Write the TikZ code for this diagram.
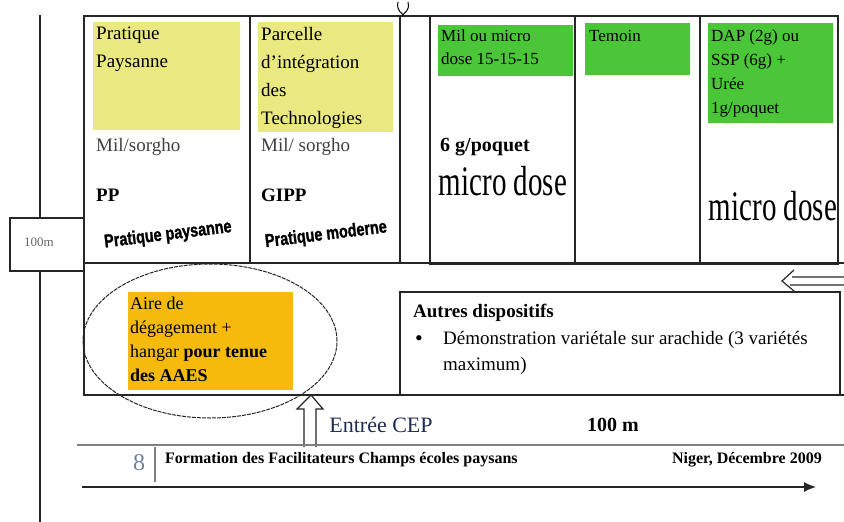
\documentclass[tikz,border=0pt]{standalone}
\usepackage{fontspec}
\setmainfont{Liberation Serif}
\newfontfamily\artfont[BoldFeatures={FakeBold=1.5}]{Liberation Sans}
\usetikzlibrary{arrows.meta}

\definecolor{paleyellow}{RGB}{234,232,128}
\definecolor{fieldgreen}{RGB}{74,198,56}
\definecolor{hangarorange}{RGB}{246,186,12}
\definecolor{cepnavy}{RGB}{30,45,80}
\definecolor{pagegrey}{RGB}{128,128,128}
\definecolor{pageblue}{RGB}{110,130,160}

\begin{document}
\begin{tikzpicture}[x=1pt,y=-1pt,
		plot/.style={draw=black!85,line width=1.2pt},
		txt/.style={anchor=north west,inner sep=0pt,align=left,font=\fontsize{19}{28}\selectfont},
		small/.style={txt,font=\fontsize{17}{23}\selectfont},
		art/.style={inner sep=0pt,font=\artfont\bfseries\fontsize{16}{16}\selectfont,rotate=7},
		dose/.style={inner sep=0pt,font=\fontsize{29}{29}\selectfont}]
		\useasboundingbox (0,0) rectangle (844,522);
		\fill [paleyellow] (93,22) rectangle (240,130)
			  (258,22) rectangle (393,132);
		\fill [fieldgreen] (438,25) rectangle (573,76)
			  (585,23) rectangle (690,75)
			  (708,23) rectangle (833,123);
		\fill [hangarorange] (128,292) rectangle (293,390);
		\draw [plot] (84,16) rectangle (400,263)
			  (250,16) -- (250,263)
			  (400,16) -- (430,16)
			  (430,16) rectangle (838,264)
			  (575,16) -- (575,264)
			  (700,16) -- (700,264);
		\draw [plot] (84,263) -- (84,395) -- (844,395)
			  (400,263) -- (844,263)
			  (400,292) rectangle (840,395);
		\draw [plot] (10,218) rectangle (84,271)
			  (40,15) -- (40,218)
			  (40,271) -- (40,522);
		\draw [line width=1pt] (398,2) .. controls (396,12) and (403,13) .. (403,15) .. controls (404,12) and (410,12) .. (408,2);
		\draw [plot] (844,277) -- (792,277)
			  (844,285) -- (790,285)
			  (794,270) -- (782,281) -- (794,291);
		\draw [black!85,line width=1pt,dash pattern=on 4pt off 1pt] (210,341) ellipse [x radius=127pt,y radius=77pt];
		\draw [plot,fill=white] (304,447) -- (304,409) -- (297,409) -- (311,395) -- (323,409) -- (316,409) -- (316,447);
		\draw [pagegrey,line width=2.5pt] (77,445) -- (844,445);
		\draw [pagegrey,line width=2pt] (155,447) -- (155,482);
		\coordinate (scale west) at (82,487);
		\coordinate (scale east) at (816,487);
		\draw [black!85,line width=1.2pt,-{Latex[length=12pt,width=10pt]}] (scale west) -- (scale east);

		\node [txt] (pp head) at (96,27) {Pratique\\Paysanne};
		\node [txt] (gipp head) at (261,27) {Parcelle\\d'intégration\\des\\Technologies};
		\node [txt,text=black!75] (pp crop) at (96,138) {Mil/sorgho};
		\node [txt,text=black!75] (gipp crop) at (261,138) {Mil/ sorgho};
		\node [txt,font=\bfseries\fontsize{19}{28}\selectfont] (pp) at (96,189) {PP};
		\node [txt,font=\bfseries\fontsize{19}{28}\selectfont] (gipp) at (261,189) {GIPP};
		\node [art] (pp art) at (168,235) {\scalebox{0.9}[1.15]{Pratique paysanne}};
		\node [art] (gipp art) at (326,235) {\scalebox{0.9}[1.15]{Pratique moderne}};

		\node [small] (md head) at (441,30) {Mil ou micro\\dose 15-15-15};
		\node [small] (tem head) at (589,30) {Temoin};
		\node [small,font=\fontsize{17}{24}\selectfont] (dap head) at (711,30) {DAP (2g) ou\\SSP (6g) +\\Urée\\1g/poquet};
		\node [txt,font=\bfseries\fontsize{20}{28}\selectfont] (md rate) at (440,138) {6 g/poquet};
		\node [dose] (md art) at (503,181) {\scalebox{1}[1.45]{micro dose}};
		\node [dose] (dap art) at (773,206) {\scalebox{1}[1.45]{micro dose}};

		\node [txt,font=\fontsize{13}{13}\selectfont,text=black!60] (width) at (24,238) {100m};
		\node [txt,font=\fontsize{18}{24}\selectfont] (hangar) at (130,297) {Aire de\\dégagement +\\hangar \textbf{pour tenue}\\\textbf{des AAES}};
		\node [txt,font=\bfseries\fontsize{19}{26}\selectfont] (autres) at (413,304) {Autres dispositifs};
		\node [inner sep=0pt,font=\fontsize{22}{22}\selectfont] (bullet) at (419,341) {•};
		\node [txt,font=\fontsize{19}{26}\selectfont] (demo) at (443,331) {Démonstration variétale sur arachide (3 variétés\\maximum)};
		\node [inner sep=0pt,font=\fontsize{22}{22}\selectfont,text=cepnavy] (entree) at (381,425) {Entrée CEP};
		\node [inner sep=0pt,font=\bfseries\fontsize{20}{20}\selectfont] (length) at (613,425) {100 m};

		\node [inner sep=0pt,font=\fontsize{24}{24}\selectfont,text=pageblue] (page) at (139,463) {8};
		\node [anchor=west,inner sep=0pt,font=\bfseries\fontsize{16}{16}\selectfont] (course) at (165,460) {Formation des Facilitateurs Champs écoles paysans};
		\node [anchor=east,inner sep=0pt,font=\bfseries\fontsize{16}{16}\selectfont] (place) at (822,460) {Niger, Décembre 2009};
	\end{tikzpicture}
\end{document}
